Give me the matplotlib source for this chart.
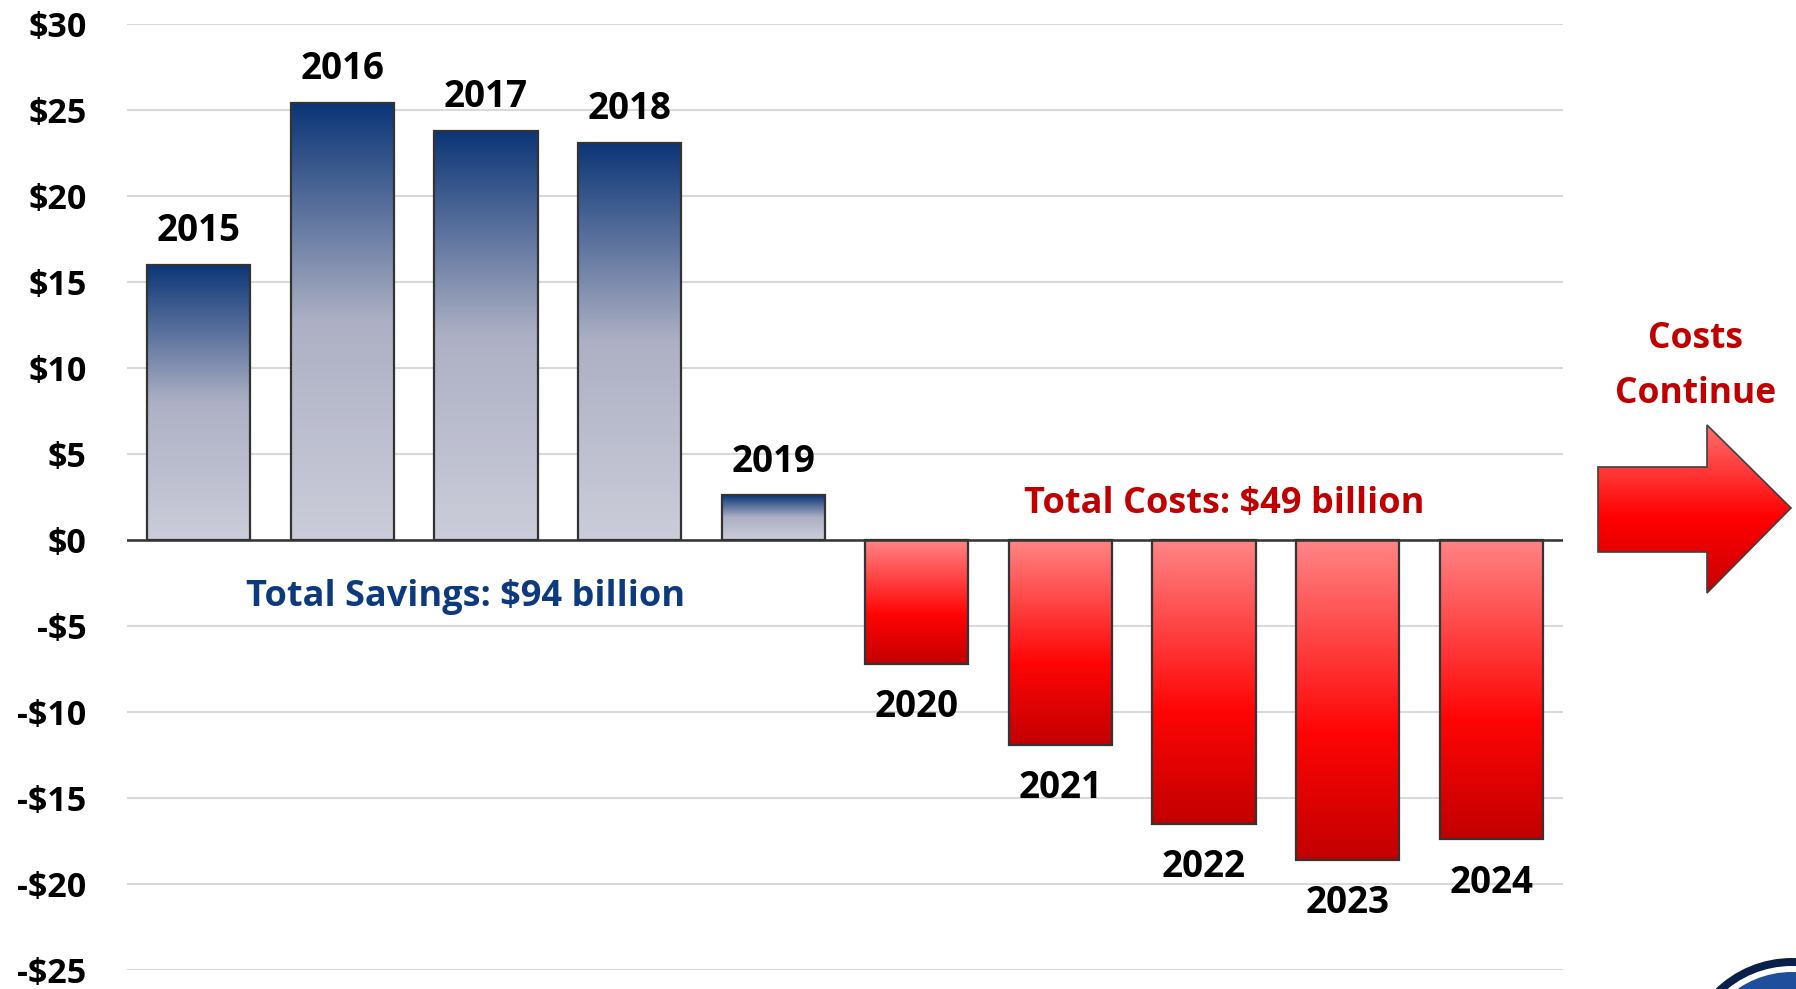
import matplotlib.pyplot as plt
import numpy as np
from matplotlib.colors import LinearSegmentedColormap
from matplotlib.patches import Polygon, Circle

plt.rcParams['font.family'] = ['Open Sans', 'DejaVu Sans']

years = ['2015', '2016', '2017', '2018', '2019', '2020', '2021', '2022', '2023', '2024']
values = [16.0, 25.4, 23.8, 23.1, 2.6, -7.2, -11.9, -16.5, -18.6, -17.4]
yticks = np.arange(-25, 31, 5)
ytick_labels = [('-$' + str(-t)) if t < 0 else ('$' + str(t)) for t in yticks]

navy = '#0d3a7e'
dark_red = '#c00000'

savings_cmap = LinearSegmentedColormap.from_list('sav', [(0, '#0b3577'), (0.5, '#adb0c4'), (1, '#cbcdda')])
cost_cmap = LinearSegmentedColormap.from_list('cost', [(0, '#ff8585'), (0.6, '#ff0505'), (1, '#c20000')])

W, H = 1796, 989
fig = plt.figure(figsize=(W / 100, H / 100), dpi=100)
ax = fig.add_axes([127 / W, 1 - 970 / H, (1563 - 127) / W, (970 - 24) / H])

x = np.arange(len(years))
bars = ax.bar(x, values, width=0.72, facecolor='none', edgecolor='#333333', linewidth=1.6, zorder=3)

# gradient fill for each bar
grad = np.linspace(0, 1, 256).reshape(-1, 1)
for b, v in zip(bars, values):
    x0, w = b.get_x(), b.get_width()
    if v >= 0:
        im = ax.imshow(grad, cmap=savings_cmap, aspect='auto', extent=[x0, x0 + w, 0, v], origin='upper', zorder=2)
    else:
        im = ax.imshow(grad, cmap=cost_cmap, aspect='auto', extent=[x0, x0 + w, v, 0], origin='upper', zorder=2)
    im.set_clip_path(b)

for xi, v, yr in zip(x, values, years):
    if v >= 0:
        ax.text(xi, v + 1.38, yr, ha='center', va='baseline', fontsize=26.5, fontweight='bold')
    else:
        ax.text(xi, v - 3.1, yr, ha='center', va='baseline', fontsize=26.5, fontweight='bold')

ax.axhline(0, color='#333333', linewidth=1.8, zorder=4)
ax.set_xlim(-0.5, 9.5)
ax.set_ylim(-25, 30)
ax.set_yticks(yticks)
ax.set_yticklabels(ytick_labels, fontweight='bold')
ax.set_xticks([])
ax.tick_params(axis='y', length=0, pad=29, labelsize=24.5)
ax.yaxis.grid(True, color='#d9d9d9', linewidth=1.5)
ax.set_axisbelow(True)
for s in ax.spines.values():
    s.set_visible(False)

ax.text(1.86, -3.84, 'Total Savings: $94 billion', color=navy, fontsize=26, fontweight='bold',
        ha='center', va='baseline')
ax.text(7.14, 1.57, 'Total Costs: $49 billion', color=dark_red, fontsize=26, fontweight='bold',
        ha='center', va='baseline')

# overlay in pixel coordinates for the side arrow and logo
oax = fig.add_axes([0, 0, 1, 1])
oax.axis('off')
fig.text(1696 / W, 1 - 348 / H, 'Costs', color=dark_red, fontsize=25.5, fontweight='bold', ha='center', va='baseline')
fig.text(1696 / W, 1 - 403 / H, 'Continue', color=dark_red, fontsize=25.5, fontweight='bold', ha='center', va='baseline')

arrow_pts = [(1598, 467), (1707, 467), (1707, 425), (1791, 508), (1707, 593), (1707, 552), (1598, 552)]
arrow = Polygon(arrow_pts, closed=True, facecolor='none', edgecolor='#404040', linewidth=1.2, zorder=3)
oax.add_patch(arrow)
arrow_cmap = LinearSegmentedColormap.from_list('arr', [(0, '#ff7070'), (0.55, '#ff0000'), (1, '#c80000')])
aim = oax.imshow(grad, cmap=arrow_cmap, aspect='auto', extent=[1598, 1791, 593, 425], origin='upper', zorder=2)
aim.set_clip_path(arrow)

oax.add_patch(Circle((1792, 1068), 110, facecolor='#0a1f4a', edgecolor='none', zorder=2))
oax.add_patch(Circle((1792, 1068), 102, facecolor='white', edgecolor='none', zorder=2))
oax.add_patch(Circle((1792, 1068), 96, facecolor='#1f4e9c', edgecolor='none', zorder=2))
oax.set_xlim(0, W)
oax.set_ylim(H, 0)

fig.savefig('out.png', dpi=100)
